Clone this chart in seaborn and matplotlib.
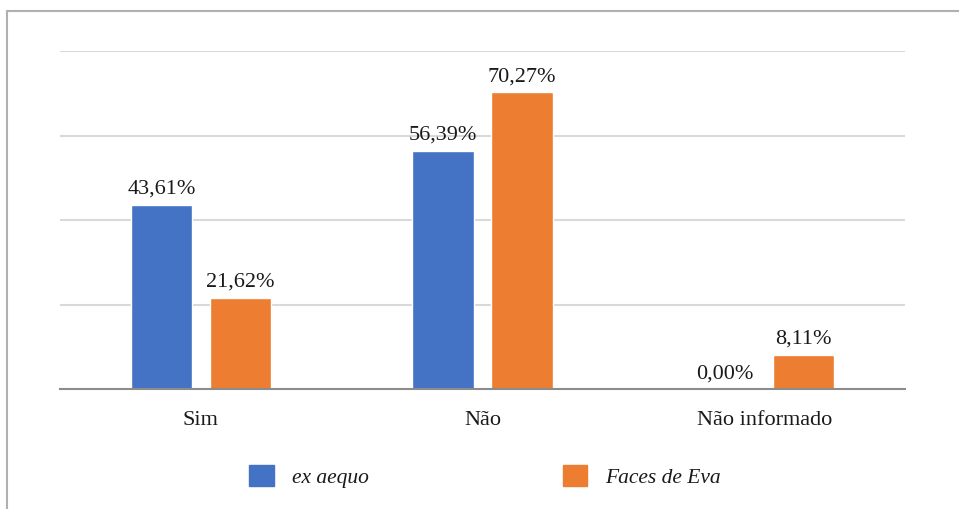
import pandas as pd
import seaborn as sns
from matplotlib import pyplot as plt
from matplotlib.lines import Line2D
import matplotlib.patches as patches

# dados
categorias = ['Sim', 'Não', 'Não informado']
series = ['ex aequo', 'Faces de Eva']
valores_ex_aequo = [43.61, 56.39, 0.00]
valores_faces = [21.62, 70.27, 8.11]
cores = ['#4472C4', '#ED7D31']

df = pd.DataFrame({
    'categoria': categorias * 2,
    'serie': [series[0]] * 3 + [series[1]] * 3,
    'valor': valores_ex_aequo + valores_faces,
})

sns.set_style('white')
plt.rcParams['font.family'] = ['Liberation Serif', 'DejaVu Serif']

W, H = 959, 510
fig = plt.figure(figsize=(W / 100, H / 100), dpi=100)
ax = fig.add_axes([60 / W, 1 - 390 / H, 845 / W, (390 - 52) / H])

sns.barplot(data=df, x='categoria', y='valor', hue='serie',
            palette=cores, width=0.56, gap=0.22, ax=ax,
            saturation=1, legend=False, errorbar=None)

ax.set_ylim(0, 80)
ax.set_xlim(-0.5, 2.5)
ax.set_yticks([20, 40, 60, 80])
ax.set_yticklabels([])
ax.tick_params(axis='y', length=0)
ax.tick_params(axis='x', length=0, labelsize=16, pad=15, labelcolor='#1a1a1a')
ax.yaxis.grid(True, color='#d9d9d9', linewidth=1.5)
ax.set_axisbelow(True)
for s in ['top', 'right', 'left']:
    ax.spines[s].set_visible(False)
ax.spines['bottom'].set_color('#8c8c8c')
ax.spines['bottom'].set_linewidth(1.5)
ax.set_xlabel('')
ax.set_ylabel('')

# rótulos
for cont in ax.containers:
    ax.bar_label(cont, labels=[f'{v:.2f}%'.replace('.', ',') for v in cont.datavalues],
                 padding=5, fontsize=16, color='#1a1a1a')

# legenda
handles = [patches.Patch(color=c) for c in cores]
leg = fig.legend(handles, series, loc='center', bbox_to_anchor=(485 / W, 1 - 477 / H),
                 ncol=2, frameon=False, prop={'style': 'italic', 'size': 15.5},
                 handlelength=1.15, handleheight=1.15, handletextpad=0.85,
                 columnspacing=9.0, labelcolor='#1a1a1a')

# moldura
fig.add_artist(Line2D([7 / W, 7 / W], [0, 1 - 12 / H], color='#b0b0b0', lw=1.5))
fig.add_artist(Line2D([7 / W, 1], [1 - 12 / H, 1 - 12 / H], color='#b0b0b0', lw=1.5))

fig.savefig('out.png', dpi=100)
